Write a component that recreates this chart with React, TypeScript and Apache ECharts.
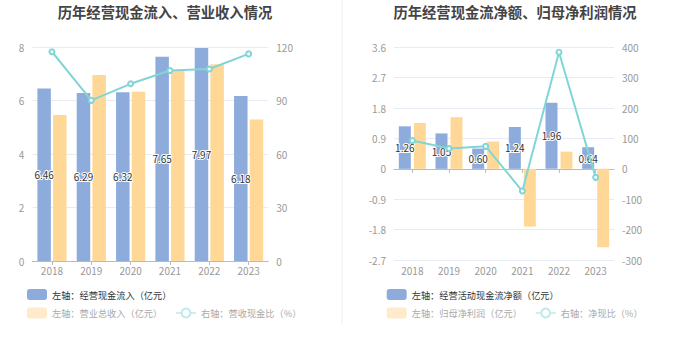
import React, { useEffect, useRef } from "react";
import * as echarts from "echarts";

const years = ["2018", "2019", "2020", "2021", "2022", "2023"];
// Left chart
const cashInflow = [6.46, 6.29, 6.32, 7.65, 7.97, 6.18];
const revenue = [5.47, 6.96, 6.34, 7.12, 7.37, 5.3];
const revenueCashRatio = [117.5, 90.2, 99.5, 107, 107.8, 116.3];
// Right chart
const netCashFlow = [1.26, 1.05, 0.6, 1.24, 1.96, 0.64];
const netProfit = [1.36, 1.53, 0.81, -1.71, 0.51, -2.32];
const netCashRatio = [93, 67, 74, -73, 384, -28];

const leftTitle = "历年经营现金流入、营业收入情况";
const rightTitle = "历年经营现金流净额、归母净利润情况";
const nInflow = "左轴：经营现金流入（亿元）";
const nRevenue = "左轴：营业总收入（亿元）";
const nRatio1 = "右轴：营收现金比（%）";
const nNetCash = "左轴：经营活动现金流净额（亿元）";
const nProfit = "左轴：归母净利润（亿元）";
const nRatio2 = "右轴：净现比（%）";

const BLUE = "#8eacdb";
const ORANGE = "#ffd897";
const CYAN = "#80d5d6";
const FONT = '"Noto Sans CJK SC", "Noto Sans", sans-serif';

export default function App() {
  const ref = useRef<HTMLDivElement>(null);
  useEffect(() => {
    const chart = echarts.init(ref.current!, null, { renderer: "svg" });
    const axisLabel = { color: "#999", fontSize: 10 };
    const splitLine = { lineStyle: { color: "#e6ebf5" } };
    const barLabel = {
      show: true,
      position: "inside",
      color: "#333",
      fontSize: 10,
      textBorderColor: "#fff",
      textBorderWidth: 2,
    };
    const legendBase = {
      padding: 0,
      itemWidth: 20,
      itemHeight: 11,
      itemGap: 13,
      textStyle: { fontSize: 9.2, color: "#333", fontFamily: FONT },
    };
    const fadedItems = (a: string, b: string) => [
      { name: a, itemStyle: { color: "#ffeacb" }, textStyle: { color: "#aaa" } },
      {
        name: b,
        itemStyle: { color: "#bfeaea", borderWidth: 1.2 },
        lineStyle: { color: "#bfeaea", width: 1.5 },
        textStyle: { color: "#aaa" },
      },
    ];
    chart.setOption({
      animation: false,
      textStyle: { fontFamily: FONT },
      graphic: [
        {
          type: "text",
          x: 165,
          y: 11,
          style: {
            text: leftTitle,
            font: `bold 14.3px ${FONT}`,
            fill: "#444",
            textAlign: "center",
            textVerticalAlign: "middle",
          },
        },
        {
          type: "text",
          x: 515,
          y: 11,
          style: {
            text: rightTitle,
            font: `bold 14.3px ${FONT}`,
            fill: "#444",
            textAlign: "center",
            textVerticalAlign: "middle",
          },
        },
        {
          type: "line",
          shape: { x1: 342, y1: 0, x2: 342, y2: 325 },
          style: { stroke: "#eeeeee", lineWidth: 1 },
        },
      ],
      legend: [
        { ...legendBase, left: 27, top: 289, data: [nInflow] },
        { ...legendBase, left: 27, top: 307.5, data: fadedItems(nRevenue, nRatio1) },
        { ...legendBase, left: 386.7, top: 289, data: [nNetCash] },
        { ...legendBase, left: 386.7, top: 307.5, data: fadedItems(nProfit, nRatio2) },
      ],
      grid: [
        { left: 32.3, width: 236, top: 47.3, height: 213.7 },
        { left: 394, width: 220, top: 47.3, height: 212.7 },
      ],
      xAxis: [
        {
          type: "category",
          gridIndex: 0,
          data: years,
          axisLine: { lineStyle: { color: "#bbb" } },
          axisTick: { show: true, alignWithLabel: true, length: 4, lineStyle: { color: "#bbb" } },
          axisLabel: { ...axisLabel, margin: 4 },
        },
        {
          type: "category",
          gridIndex: 1,
          data: years,
          position: "bottom",
          axisLine: { onZero: true, lineStyle: { color: "#bbb" } },
          axisTick: { show: true, alignWithLabel: true, length: 4, lineStyle: { color: "#bbb" } },
          axisLabel: { show: false },
        },
        {
          type: "category",
          gridIndex: 1,
          data: years,
          position: "bottom",
          axisLine: { show: false, onZero: false },
          axisTick: { show: false },
          axisLabel: { ...axisLabel, margin: 5 },
        },
      ],
      yAxis: [
        {
          type: "value",
          gridIndex: 0,
          min: 0,
          max: 8,
          interval: 2,
          axisLabel,
          splitLine,
          axisLine: { show: false },
          axisTick: { show: false },
        },
        {
          type: "value",
          gridIndex: 0,
          min: 0,
          max: 120,
          interval: 30,
          axisLabel,
          splitLine: { show: false },
          axisLine: { show: false },
          axisTick: { show: false },
        },
        {
          type: "value",
          gridIndex: 1,
          min: -2.7,
          max: 3.6,
          interval: 0.9,
          axisLabel: {
            ...axisLabel,
            formatter: (v: number) => String(Math.round(v * 10) / 10),
          },
          splitLine,
          axisLine: { show: false },
          axisTick: { show: false },
        },
        {
          type: "value",
          gridIndex: 1,
          min: -300,
          max: 400,
          interval: 100,
          axisLabel,
          splitLine: { show: false },
          axisLine: { show: false },
          axisTick: { show: false },
        },
      ],
      series: [
        {
          name: nInflow,
          type: "bar",
          xAxisIndex: 0,
          yAxisIndex: 0,
          data: cashInflow,
          barWidth: 13.5,
          barGap: "16%",
          itemStyle: { color: BLUE },
          label: { ...barLabel, formatter: (p: any) => p.value.toFixed(2) },
        },
        {
          name: nRevenue,
          type: "bar",
          xAxisIndex: 0,
          yAxisIndex: 0,
          data: revenue,
          barWidth: 13.5,
          barGap: "16%",
          itemStyle: { color: ORANGE },
        },
        {
          name: nRatio1,
          type: "line",
          xAxisIndex: 0,
          yAxisIndex: 1,
          data: revenueCashRatio,
          symbol: "emptyCircle",
          symbolSize: 5,
          itemStyle: { color: CYAN },
          lineStyle: { color: CYAN, width: 2 },
        },
        {
          name: nNetCash,
          type: "bar",
          xAxisIndex: 1,
          yAxisIndex: 2,
          data: netCashFlow,
          barWidth: 12,
          barGap: "25%",
          itemStyle: { color: BLUE },
          label: { ...barLabel, formatter: (p: any) => p.value.toFixed(2) },
        },
        {
          name: nProfit,
          type: "bar",
          xAxisIndex: 1,
          yAxisIndex: 2,
          data: netProfit,
          barWidth: 12,
          barGap: "25%",
          itemStyle: { color: ORANGE },
        },
        {
          name: nRatio2,
          type: "line",
          xAxisIndex: 1,
          yAxisIndex: 3,
          data: netCashRatio,
          symbol: "emptyCircle",
          symbolSize: 5,
          itemStyle: { color: CYAN },
          lineStyle: { color: CYAN, width: 2 },
        },
      ],
    });
    return () => chart.dispose();
  }, []);
  return (
    <div
      ref={ref}
      style={{ position: "absolute", left: 0, top: 0, width: 680, height: 349 }}
    />
  );
}
